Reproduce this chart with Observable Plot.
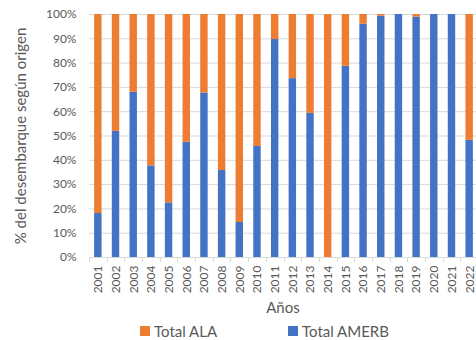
<!DOCTYPE html>
<html><head><meta charset="utf-8">
<script src="https://cdn.jsdelivr.net/npm/d3@7"></script>
<script src="https://cdn.jsdelivr.net/npm/@observablehq/plot@0.6"></script>
<style>
body{margin:0;background:#fff;font-family:Lato,"Open Sans",sans-serif;}
#wrap{position:relative;width:476px;height:340px;overflow:hidden;}
.leg{position:absolute;top:322px;font-size:15px;color:#595959;display:flex;align-items:center;line-height:18px;}
.sw{width:10px;height:10px;margin-right:4px;display:inline-block;}
</style>
</head><body><div id="wrap"><div id="chart"></div></div>
<script>
const years = ["2001","2002","2003","2004","2005","2006","2007","2008","2009","2010","2011","2012","2013","2014","2015","2016","2017","2018","2019","2020","2021","2022"];
const amerb = [18.1,51.9,68.0,37.7,22.5,47.4,67.7,35.8,14.4,45.7,89.7,73.6,59.3,0,78.7,96.0,99.3,100,98.9,100,100,48.2];
const ala   = [81.9,48.1,32.0,62.3,77.5,52.6,32.3,64.2,85.6,54.3,10.3,26.4,40.7,100,21.3,4.0,0.7,0,1.1,0,0,51.8];
const seriesNames = ["Total ALA","Total AMERB"];
const seriesColors = ["#ED7D31","#4472C4"];
const yTicks = [0,10,20,30,40,50,60,70,80,90,100];
const yTitle = "% del desembarque según origen";
const xTitle = "Años";

const data = [];
years.forEach((yr,i)=>{
  data.push({year:yr, series:"Total AMERB", value:amerb[i]});
  data.push({year:yr, series:"Total ALA", value:ala[i]});
});

const boundaryTicks = (index, scales, values, dims) => {
  const x = scales.x;
  const step = x(years[1]) - x(years[0]);
  const bw = x.bandwidth ? x.bandwidth() : step*0.42;
  const off = (step - bw)/2;
  const y0 = dims.height - dims.marginBottom;
  const g = d3.create("svg:g").attr("stroke","#d9d9d9");
  years.forEach(yr=>{
    const bx = Math.round(x(yr) - off) + 0.5;
    g.append("line").attr("x1",bx).attr("x2",bx).attr("y1",y0).attr("y2",y0+5);
  });
  return g.node();
};

const chart = Plot.plot({
  width:476, height:330,
  marginLeft:89, marginRight:0, marginTop:14, marginBottom:73,
  style:{fontFamily:"Lato, 'Open Sans', sans-serif", fontSize:"12px", color:"#595959", background:"transparent", overflow:"visible"},
  x:{domain:years, range:[89,478], paddingInner:0.58, paddingOuter:0.29, round:false},
  y:{domain:[0,100]},
  color:{domain:seriesNames, range:seriesColors},
  marks:[
    Plot.gridY(yTicks,{stroke:"#d9d9d9", strokeOpacity:1}),
    Plot.barY(data,{x:"year", y:"value", fill:"series", order:["Total AMERB","Total ALA"]}),
    Plot.ruleY([0],{stroke:"#d9d9d9"}),
    boundaryTicks,
    Plot.axisY(yTicks,{tickFormat:d=>d+"%", tickSize:0, tickPadding:13, label:null, fill:"#595959", fontSize:12}),
    Plot.axisX({tickRotate:-90, tickSize:0, tickPadding:8, label:null, fill:"#595959", fontSize:12}),
    Plot.text([yTitle],{frameAnchor:"left", textAnchor:"middle", lineAnchor:"middle", rotate:-90, dx:-68, fontSize:15, fill:"#595959"}),
    Plot.text([xTitle],{frameAnchor:"bottom", textAnchor:"middle", lineAnchor:"middle", dy:51, fontSize:15, fill:"#595959"})
  ]
});
document.getElementById("chart").appendChild(chart);

const wrap = document.getElementById("wrap");
const legLefts = [140, 288];
seriesNames.forEach((s,i)=>{
  const d = document.createElement("div");
  d.className = "leg";
  d.style.left = legLefts[i]+"px";
  d.innerHTML = `<span class="sw" style="background:${seriesColors[i]}"></span>${s}`;
  wrap.appendChild(d);
});
</script>
</body></html>
